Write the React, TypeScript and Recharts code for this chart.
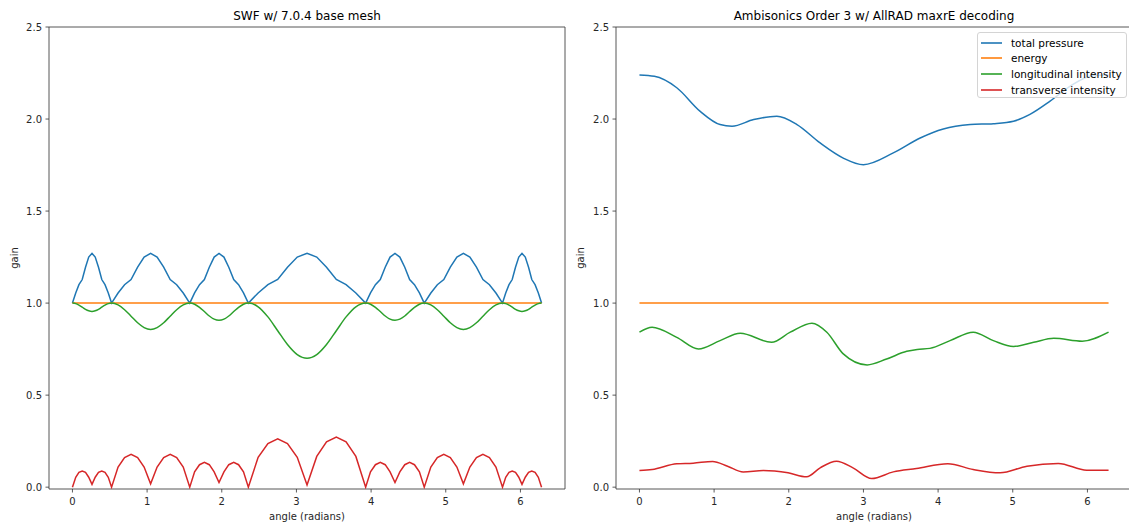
import React from "react";
import { LineChart, Line, XAxis, YAxis, ReferenceArea } from "recharts";

// ---- left panel: SWF w/ 7.0.4 base mesh (speakers at 0, 30, 90, 135, 225, 270, 330 deg) ----
const angleLeft = [
  0, 0.044, 0.087, 0.131, 0.175, 0.218, 0.262, 0.305, 0.349, 0.393, 0.436, 0.48,
  0.524, 0.611, 0.698, 0.785, 0.873, 0.96, 1.047, 1.134, 1.222, 1.309, 1.396, 1.484,
  1.571, 1.636, 1.702, 1.767, 1.833, 1.898, 1.963, 2.029, 2.094, 2.16, 2.225, 2.291,
  2.356, 2.487, 2.618, 2.749, 2.88, 3.011, 3.142, 3.272, 3.403, 3.534, 3.665, 3.796,
  3.927, 3.992, 4.058, 4.123, 4.189, 4.254, 4.32, 4.385, 4.451, 4.516, 4.581, 4.647,
  4.712, 4.8, 4.887, 4.974, 5.061, 5.149, 5.236, 5.323, 5.411, 5.498, 5.585, 5.672,
  5.76, 5.803, 5.847, 5.89, 5.934, 5.978, 6.021, 6.065, 6.109, 6.152, 6.196, 6.24,
  6.283,
];
const pressureLeft = [
  1.0, 1.055, 1.1, 1.128, 1.195, 1.25, 1.27, 1.25, 1.195, 1.128, 1.1, 1.055,
  1.0, 1.055, 1.1, 1.128, 1.195, 1.25, 1.27, 1.25, 1.195, 1.128, 1.1, 1.055,
  1.0, 1.055, 1.1, 1.128, 1.195, 1.25, 1.27, 1.25, 1.195, 1.128, 1.1, 1.055,
  1.0, 1.055, 1.1, 1.128, 1.195, 1.25, 1.27, 1.25, 1.195, 1.128, 1.1, 1.055,
  1.0, 1.055, 1.1, 1.128, 1.195, 1.25, 1.27, 1.25, 1.195, 1.128, 1.1, 1.055,
  1.0, 1.055, 1.1, 1.128, 1.195, 1.25, 1.27, 1.25, 1.195, 1.128, 1.1, 1.055,
  1.0, 1.055, 1.1, 1.128, 1.195, 1.25, 1.27, 1.25, 1.195, 1.128, 1.1, 1.055,
  1.0,
];
const longitudinalLeft = [
  1.0, 0.997, 0.989, 0.978, 0.966, 0.958, 0.955, 0.958, 0.966, 0.978, 0.989, 0.997,
  1.0, 0.99, 0.964, 0.929, 0.893, 0.867, 0.857, 0.867, 0.893, 0.929, 0.964, 0.99,
  1.0, 0.994, 0.977, 0.954, 0.93, 0.913, 0.907, 0.913, 0.93, 0.954, 0.977, 0.994,
  1.0, 0.98, 0.925, 0.85, 0.775, 0.72, 0.7, 0.72, 0.775, 0.85, 0.925, 0.98,
  1.0, 0.994, 0.977, 0.954, 0.93, 0.913, 0.907, 0.913, 0.93, 0.954, 0.977, 0.994,
  1.0, 0.99, 0.964, 0.929, 0.893, 0.867, 0.857, 0.867, 0.893, 0.929, 0.964, 0.99,
  1.0, 0.997, 0.989, 0.978, 0.966, 0.958, 0.955, 0.958, 0.966, 0.978, 0.989, 0.997,
  1.0,
];
const transverseLeft = [
  0.0, 0.054, 0.08, 0.088, 0.08, 0.054, 0.015, 0.054, 0.08, 0.088, 0.08, 0.054,
  0.0, 0.109, 0.161, 0.178, 0.161, 0.109, 0.018, 0.109, 0.161, 0.178, 0.161, 0.109,
  0.0, 0.083, 0.122, 0.135, 0.122, 0.083, 0.025, 0.083, 0.122, 0.135, 0.122, 0.083,
  0.0, 0.162, 0.237, 0.263, 0.237, 0.162, 0.012, 0.167, 0.246, 0.272, 0.246, 0.167,
  0.0, 0.083, 0.122, 0.135, 0.122, 0.083, 0.025, 0.083, 0.122, 0.135, 0.122, 0.083,
  0.0, 0.109, 0.161, 0.178, 0.161, 0.109, 0.018, 0.109, 0.161, 0.178, 0.161, 0.109,
  0.0, 0.054, 0.08, 0.088, 0.08, 0.054, 0.015, 0.054, 0.08, 0.088, 0.08, 0.054,
  0.0,
];
const energyAngle = [0, 6.283];
const energyValues = [1.0, 1.0];

// ---- right panel: Ambisonics order 3, AllRAD maxrE ----
const pressureAngleRight = [0, 0.2, 0.5, 0.81, 1.08, 1.24, 1.53, 1.84, 2.11, 2.42, 2.73, 3.0, 3.4, 3.76, 4.07, 4.43, 4.74, 5.01, 5.23, 5.5, 5.77, 6.08, 6.283];
const pressureRight = [2.239, 2.232, 2.17, 2.043, 1.97, 1.961, 1.997, 2.015, 1.97, 1.87, 1.788, 1.752, 1.816, 1.897, 1.946, 1.97, 1.975, 1.988, 2.025, 2.097, 2.179, 2.236, 2.239];

const longitudinalAngleRight = [0, 0.17, 0.5, 0.79, 1.08, 1.35, 1.77, 2.02, 2.31, 2.51, 2.73, 3.05, 3.31, 3.58, 3.72, 3.89, 4.16, 4.47, 4.74, 5.01, 5.28, 5.55, 5.93, 6.283];
const longitudinalRight = [0.842, 0.869, 0.814, 0.751, 0.796, 0.836, 0.787, 0.842, 0.891, 0.842, 0.724, 0.664, 0.696, 0.738, 0.748, 0.754, 0.796, 0.842, 0.796, 0.764, 0.787, 0.809, 0.793, 0.842];

const transverseAngleRight = [0, 0.17, 0.5, 0.72, 0.98, 1.18, 1.39, 1.66, 1.99, 2.24, 2.42, 2.64, 2.86, 3.11, 3.4, 3.71, 4.13, 4.47, 4.83, 5.19, 5.61, 5.99, 6.283];
const transverseRight = [0.091, 0.096, 0.127, 0.13, 0.14, 0.114, 0.083, 0.091, 0.078, 0.056, 0.105, 0.141, 0.105, 0.047, 0.083, 0.101, 0.127, 0.096, 0.078, 0.114, 0.129, 0.092, 0.092];

const xTicks = [0, 1, 2, 3, 4, 5, 6];
const yTicks = [0, 0.5, 1, 1.5, 2, 2.5];
const X_DOMAIN = [-0.314, 6.597];
const Y_DOMAIN = [-0.01, 2.5];

const FONT = "'DejaVu Sans', 'Liberation Sans', sans-serif";
const INK = "#262626";
const BLUE = "#1f77b4";
const ORANGE = "#ff7f0e";
const GREEN = "#2ca02c";
const RED = "#d62728";

const zip = (xs: number[], ys: number[]) => xs.map((x, i) => ({ x, y: ys[i] }));

type Series = { name: string; color: string; data: { x: number; y: number }[]; curve: "linear" | "monotone" };

const leftSeries: Series[] = [
  { name: "total pressure", color: BLUE, data: zip(angleLeft, pressureLeft), curve: "linear" },
  { name: "energy", color: ORANGE, data: zip(energyAngle, energyValues), curve: "linear" },
  { name: "longitudinal intensity", color: GREEN, data: zip(angleLeft, longitudinalLeft), curve: "monotone" },
  { name: "transverse intensity", color: RED, data: zip(angleLeft, transverseLeft), curve: "linear" },
];

const rightSeries: Series[] = [
  { name: "total pressure", color: BLUE, data: zip(pressureAngleRight, pressureRight), curve: "monotone" },
  { name: "energy", color: ORANGE, data: zip(energyAngle, energyValues), curve: "linear" },
  { name: "longitudinal intensity", color: GREEN, data: zip(longitudinalAngleRight, longitudinalRight), curve: "monotone" },
  { name: "transverse intensity", color: RED, data: zip(transverseAngleRight, transverseRight), curve: "monotone" },
];

const HEIGHT = 526;
const PLOT_W = 516;

function LegendBox({ series }: { series: Series[] }) {
  return (
    <div
      style={{
        position: "absolute",
        left: 411,
        top: 32,
        width: 150,
        height: 66,
        boxSizing: "border-box",
        border: "1px solid #d4d4d4",
        borderRadius: 3,
        background: "rgba(255,255,255,0.8)",
        paddingTop: 2,
        fontFamily: FONT,
        fontSize: 10.5,
        color: "#000",
      }}
    >
      {series.map((s) => (
        <div key={s.name} style={{ display: "flex", alignItems: "center", height: 15.6 }}>
          <svg width={24} height={6} style={{ marginLeft: 3, display: "block" }}>
            <line x1={0} y1={3} x2={21} y2={3} stroke={s.color} strokeWidth={1.6} />
          </svg>
          <span style={{ marginLeft: 6, whiteSpace: "nowrap" }}>{s.name}</span>
        </div>
      ))}
    </div>
  );
}

function Panel({
  title,
  left,
  width,
  axisWidth,
  series,
  legend,
}: {
  title: string;
  left: number;
  width: number;
  axisWidth: number;
  series: Series[];
  legend?: boolean;
}) {
  const marginRight = width - axisWidth - PLOT_W;
  return (
    <div style={{ position: "absolute", left, top: 0, width, height: HEIGHT }}>
      <LineChart width={width} height={HEIGHT} margin={{ top: 27, right: marginRight, bottom: 0, left: 0 }}>
        <XAxis
          type="number"
          dataKey="x"
          domain={X_DOMAIN}
          ticks={xTicks}
          allowDataOverflow
          axisLine={false}
          tickSize={3.5}
          tickMargin={5}
          tickLine={{ stroke: "#333", strokeWidth: 0.8 }}
          tick={{ fontSize: 10, fill: INK, fontFamily: FONT }}
          height={37}
          label={{
            value: "angle (radians)",
            position: "insideBottom",
            offset: 6,
            style: { fontSize: 10, fill: INK, fontFamily: FONT },
          }}
        />
        <YAxis
          type="number"
          domain={Y_DOMAIN}
          ticks={yTicks}
          allowDataOverflow
          axisLine={false}
          width={axisWidth}
          tickSize={3.5}
          tickMargin={3.5}
          tickLine={{ stroke: "#333", strokeWidth: 0.8 }}
          tick={{ fontSize: 10, fill: INK, fontFamily: FONT }}
          tickFormatter={(v: number) => v.toFixed(1)}
          label={{
            value: "gain",
            angle: -90,
            position: "insideLeft",
            offset: 14,
            style: { fontSize: 10, fill: INK, fontFamily: FONT, textAnchor: "middle" },
          }}
        />
        {series.map((s) => (
          <Line
            key={s.name}
            data={s.data}
            dataKey="y"
            name={s.name}
            type={s.curve}
            stroke={s.color}
            strokeWidth={1.5}
            dot={false}
            activeDot={false}
            isAnimationActive={false}
          />
        ))}
        <ReferenceArea
          x1={X_DOMAIN[0]}
          x2={X_DOMAIN[1]}
          y1={Y_DOMAIN[0]}
          y2={Y_DOMAIN[1]}
          fill="none"
          stroke="#444"
          strokeWidth={0.9}
        />
      </LineChart>
      <div
        style={{
          position: "absolute",
          left: axisWidth,
          width: PLOT_W,
          top: 9,
          textAlign: "center",
          fontFamily: FONT,
          fontSize: 12,
          lineHeight: "15px",
          color: "#000",
        }}
      >
        {title}
      </div>
      {legend && <LegendBox series={series} />}
    </div>
  );
}

export default function App() {
  return (
    <div
      style={{
        position: "absolute",
        left: 0,
        top: 0,
        width: 1129,
        height: HEIGHT,
        overflow: "hidden",
        background: "#fff",
      }}
    >
      <Panel title="SWF w/ 7.0.4 base mesh" left={0} width={570} axisWidth={49} series={leftSeries} />
      <Panel
        title="Ambisonics Order 3 w/ AllRAD maxrE decoding"
        left={566}
        width={566}
        axisWidth={50}
        series={rightSeries}
        legend
      />
    </div>
  );
}
